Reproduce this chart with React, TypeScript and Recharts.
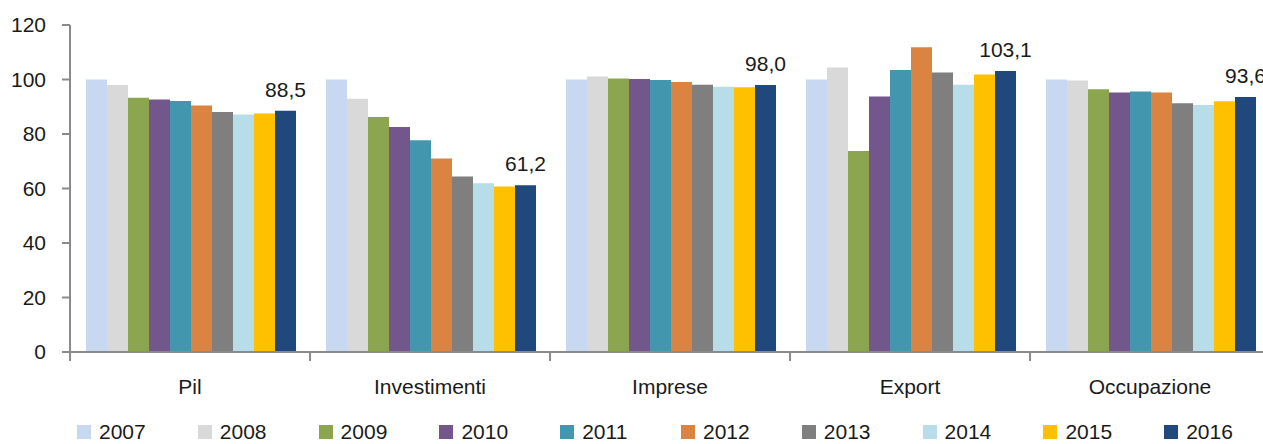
import { BarChart, Bar, XAxis, YAxis, Legend, LabelList } from "recharts";

const categories = ["Pil", "Investimenti", "Imprese", "Export", "Occupazione"];
const years = ["2007", "2008", "2009", "2010", "2011", "2012", "2013", "2014", "2015", "2016"];

const v2007 = [100, 100, 100, 100, 100];
const v2008 = [98.0, 92.9, 101.1, 104.4, 99.6];
const v2009 = [93.3, 86.2, 100.4, 73.8, 96.4];
const v2010 = [92.7, 82.6, 100.2, 93.8, 95.2];
const v2011 = [92.1, 77.7, 99.8, 103.5, 95.6];
const v2012 = [90.5, 71.0, 99.1, 111.8, 95.2];
const v2013 = [88.1, 64.4, 98.1, 102.6, 91.3];
const v2014 = [87.2, 61.9, 97.3, 98.1, 90.6];
const v2015 = [87.5, 60.7, 97.2, 101.8, 92.0];
const v2016 = [88.5, 61.2, 98.0, 103.1, 93.6];

const yTicks = [0, 20, 40, 60, 80, 100, 120];

const colors = ["#C6D9F0", "#D9D9D9", "#8BA64E", "#73578C", "#4297AF", "#DB8340", "#7F7F7F", "#B7DDE8", "#FFC000", "#1F497D"];

const series = [v2007, v2008, v2009, v2010, v2011, v2012, v2013, v2014, v2015, v2016];

const data = categories.map((name, i) => {
  const row: Record<string, string | number> = { name };
  years.forEach((y, j) => {
    row[y] = series[j][i];
  });
  return row;
});

const FONT = "'Liberation Sans', Arial, sans-serif";
const AXIS = "#8a8a8a";

function CategoryTick(props: any) {
  const { x, y, payload } = props;
  const half = payload && payload.offset ? payload.offset : 120;
  return (
    <g>
      <line x1={x - half} x2={x - half} y1={y - 27} y2={y - 18} stroke={AXIS} strokeWidth={2} />
      <text x={x} y={y} dy="0.71em" textAnchor="middle" fill="#1a1a1a" fontSize={21} fontFamily={FONT}>
        {payload.value}
      </text>
    </g>
  );
}

function LegendContent(props: any) {
  const { payload } = props;
  return (
    <div style={{ display: "flex", height: 32, paddingTop: 8, paddingLeft: 77, boxSizing: "border-box" }}>
      {(payload || []).map((p: any) => (
        <div key={p.value} style={{ width: 120.8, flexShrink: 0, display: "flex", alignItems: "center", height: 24 }}>
          <span style={{ width: 14, height: 14, background: p.color, display: "inline-block", marginRight: 8 }} />
          <span style={{ fontFamily: FONT, fontSize: 21, lineHeight: "24px", color: "#1a1a1a" }}>{p.value}</span>
        </div>
      ))}
    </div>
  );
}

const fmt = (v: any) => Number(v).toFixed(1).replace(".", ",");

export default function App() {
  return (
    <div style={{ position: "absolute", left: 0, top: 0, width: 1263, height: 444, overflow: "hidden", background: "#fff" }}>
      <BarChart
        width={1270}
        height={444}
        data={data}
        margin={{ top: 25, right: 0, left: 0, bottom: 0 }}
        barCategoryGap={16}
        barGap={0}
      >
        <XAxis
          dataKey="name"
          height={60}
          axisLine={{ stroke: AXIS, strokeWidth: 2 }}
          tickLine={false}
          tickSize={8}
          tickMargin={19}
          tick={<CategoryTick />}
          interval={0}
        />
        <YAxis
          width={70}
          domain={[0, 120]}
          ticks={yTicks}
          axisLine={{ stroke: AXIS, strokeWidth: 2 }}
          tickLine={{ stroke: AXIS, strokeWidth: 2 }}
          tickSize={8}
          tickMargin={16}
          tick={{ fill: "#1a1a1a", fontSize: 21, fontFamily: FONT }}
        />
        <Legend verticalAlign="bottom" content={<LegendContent />} wrapperStyle={{ overflow: "visible" }} />
        {years.map((y, j) => (
          <Bar key={y} dataKey={y} name={y} fill={colors[j]} isAnimationActive={false}>
            {y === "2016" && (
              <LabelList
                dataKey={y}
                position="top"
                offset={14}
                formatter={fmt}
                style={{ fill: "#1a1a1a", fontSize: 21, fontFamily: FONT }}
              />
            )}
          </Bar>
        ))}
      </BarChart>
    </div>
  );
}
